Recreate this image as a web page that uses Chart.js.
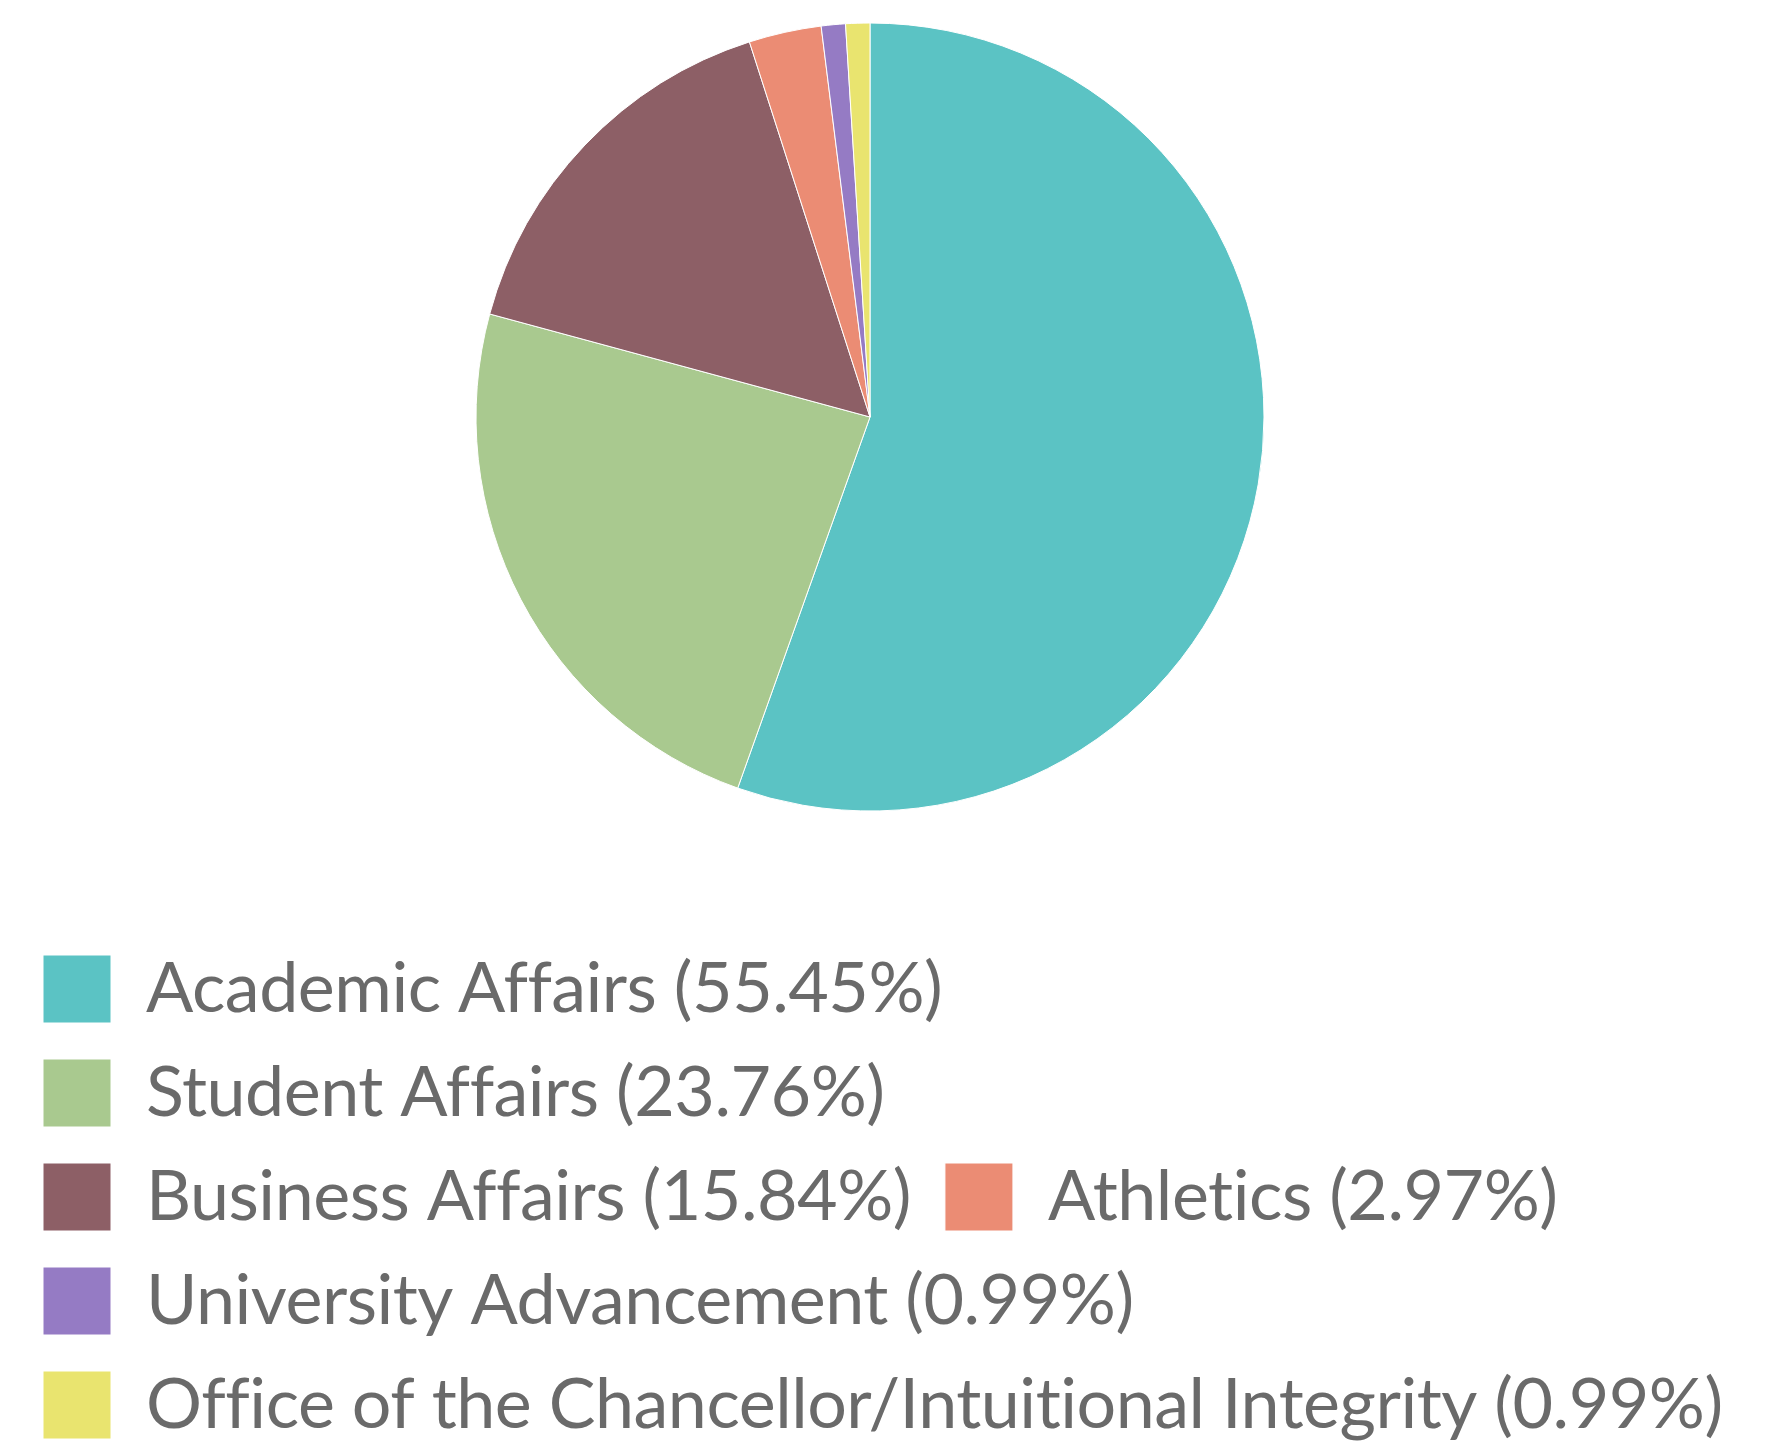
<!DOCTYPE html>
<html>
<head>
<meta charset="utf-8">
<script src="https://cdn.jsdelivr.net/npm/chart.js@4/dist/chart.umd.min.js"></script>
<style>
  html, body { margin: 0; padding: 0; background: #fff; }
  #wrap { width: 1768px; height: 1442px; overflow: hidden; position: relative; }
  #wrap canvas { position: absolute; left: 0; top: 0; }
</style>
</head>
<body>
<div id="wrap"><canvas id="divisionPie" width="1768" height="1450"></canvas></div>
<script>
const divisions = [
    'Academic Affairs',
    'Student Affairs',
    'Business Affairs',
    'Athletics',
    'University Advancement',
    'Office of the Chancellor/Intuitional Integrity'
];
const shares = [55.45, 23.76, 15.84, 2.97, 0.99, 0.99];
const sliceColors = ['#5bc3c4', '#a9c98f', '#8d5f66', '#eb8c74', '#957bc4', '#e9e46f'];

// legend text carries the percentage in brackets
const legendText = divisions.map((d, i) => d + ' (' + shares[i].toFixed(2) + '%)');

// a little negative tracking: tighter text and no "ti" ligatures
const tightText = {
    id: 'tightText',
    beforeUpdate(chart) { chart.ctx.letterSpacing = '-0.5px'; },
    beforeDraw(chart) { chart.ctx.letterSpacing = '-0.5px'; }
};

const ctx = document.getElementById('divisionPie');
window.divisionPie = new Chart(ctx, {
    type: 'pie',
    data: {
        labels: legendText,
        datasets: [{
            data: shares,
            backgroundColor: sliceColors,
            borderColor: '#ffffff',
            borderWidth: 1,
            radius: 394
        }]
    },
    options: {
        responsive: false,
        devicePixelRatio: 1,
        animation: false,
        layout: {
            padding: { left: 9, right: 37 }
        },
        plugins: {
            legend: {
                position: 'bottom',
                align: 'start',
                title: {
                    display: true,
                    text: ' ',
                    font: { size: 20, lineHeight: 1.2 },
                    padding: 31
                },
                labels: {
                    boxWidth: 68,
                    boxHeight: 68,
                    padding: 34,
                    color: '#6a6a6a',
                    font: { family: 'Lato', size: 70 }
                }
            },
            tooltip: {
                enabled: false
            }
        }
    },
    plugins: [tightText]
});
</script>
</body>
</html>
